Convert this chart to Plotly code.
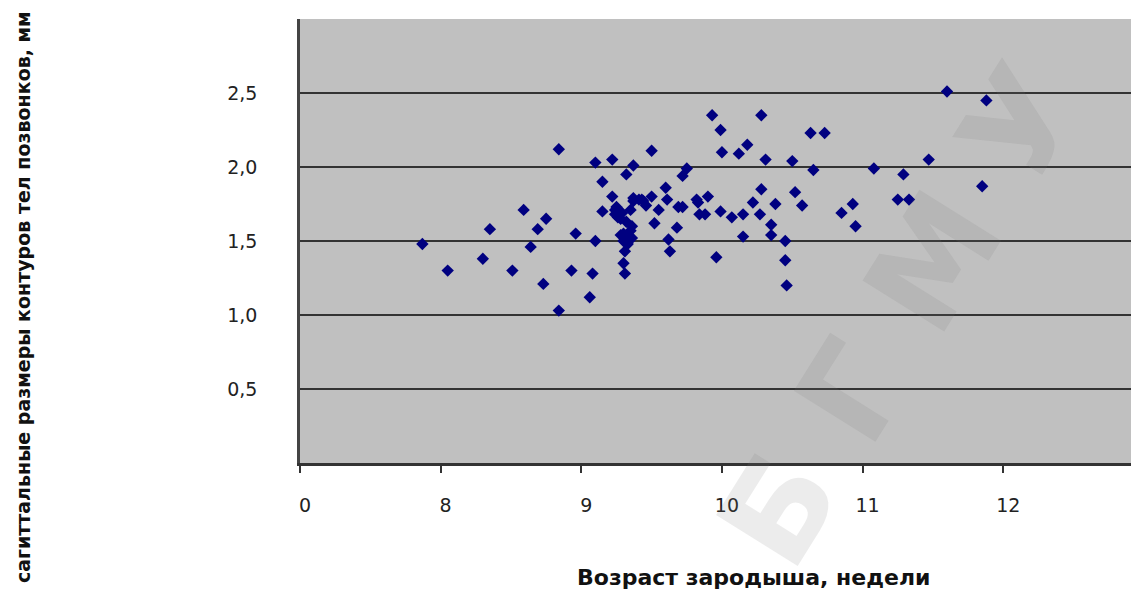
import plotly.graph_objects as go

# Fetal age (weeks) and sagittal size of vertebral body contours (mm)
age_weeks = [
    7.87, 8.05, 8.30, 8.35, 8.51, 8.59, 8.64, 8.69, 8.73, 8.75,
    8.84, 8.84, 8.93, 8.96, 9.06, 9.08, 9.10, 9.10, 9.15, 9.15,
    9.22, 9.22, 9.24, 9.29, 9.35, 9.26, 9.32, 9.30, 9.33, 9.30,
    9.33, 9.31, 9.30, 9.31, 9.32, 9.37, 9.37, 9.43, 9.50, 9.50,
    9.52, 9.55, 9.60, 9.61, 9.62, 9.63, 9.68, 9.69, 9.72, 9.72,
    9.75, 9.82, 9.83, 9.84, 9.88, 9.90, 9.93, 9.96, 9.99, 9.99,
    10.00, 10.07, 10.12, 10.18, 10.15, 10.15, 10.22, 10.27, 10.28, 10.28,
    10.31, 10.35, 10.35, 10.38, 10.45, 10.45, 10.46, 10.50, 10.52, 10.57,
    10.63, 10.73, 10.65, 10.85, 10.93, 10.95, 11.08, 11.25, 11.33, 11.29,
    11.47, 11.60, 11.88, 11.85, 9.25, 9.28, 9.36, 9.37, 9.41, 9.44,
    9.46, 9.24, 9.35, 9.36, 9.28,
]
size_mm = [
    1.48, 1.30, 1.38, 1.58, 1.30, 1.71, 1.46, 1.58, 1.21, 1.65,
    2.12, 1.03, 1.30, 1.55, 1.12, 1.28, 1.50, 2.03, 1.90, 1.70,
    2.05, 1.80, 1.71, 1.69, 1.71, 1.66, 1.63, 1.55, 1.53, 1.50,
    1.48, 1.43, 1.35, 1.28, 1.95, 2.01, 1.79, 1.78, 1.80, 2.11,
    1.62, 1.71, 1.86, 1.78, 1.51, 1.43, 1.59, 1.73, 1.73, 1.94,
    1.99, 1.78, 1.76, 1.68, 1.68, 1.80, 2.35, 1.39, 2.25, 1.70,
    2.10, 1.66, 2.09, 2.15, 1.53, 1.68, 1.76, 1.68, 2.35, 1.85,
    2.05, 1.61, 1.54, 1.75, 1.50, 1.37, 1.20, 2.04, 1.83, 1.74,
    2.23, 2.23, 1.98, 1.69, 1.75, 1.60, 1.99, 1.78, 1.78, 1.95,
    2.05, 2.51, 2.45, 1.87, 1.73, 1.65, 1.60, 1.77, 1.78, 1.77,
    1.74, 1.68, 1.57, 1.52, 1.54,
]

x_tick_vals = [7, 8, 9, 10, 11, 12]
x_tick_text = ["0", "8", "9", "10", "11", "12"]
y_tick_vals = [0.5, 1.0, 1.5, 2.0, 2.5]
y_tick_text = ["0,5", "1,0", "1,5", "2,0", "2,5"]

x_title = "Возраст зародыша, недели"
y_title = "сагиттальные размеры контуров тел позвонков, мм"
watermark = "Б Г М У"

fig = go.Figure()
fig.add_trace(go.Scatter(
    x=age_weeks, y=size_mm, mode="markers",
    marker=dict(symbol="diamond", size=9.5, color="#000080", line=dict(width=0)),
    showlegend=False,
))

tick_font = dict(family="DejaVu Sans", size=19, color="#222222")

fig.update_layout(
    width=1131, height=597,
    margin=dict(l=292, r=0, t=11, b=142),
    paper_bgcolor="white",
    plot_bgcolor="#C0C0C0",
    xaxis=dict(
        range=[7, 12.965], tickvals=x_tick_vals, ticktext=x_tick_text,
        showgrid=False, zeroline=False,
        showline=True, linecolor="#333333", linewidth=2.5,
        ticks="outside", ticklen=7, tickwidth=2, tickcolor="#333333",
        tickfont=tick_font, ticklabelstandoff=16, ticklabelshift=5,
    ),
    yaxis=dict(
        range=[0, 3.0], tickvals=y_tick_vals, ticktext=y_tick_text,
        showgrid=True, gridcolor="#333333", gridwidth=2.2,
        zeroline=False,
        showline=True, linecolor="#444444", linewidth=2.5,
        ticks="", tickfont=tick_font, ticklabelstandoff=36,
    ),
    annotations=[
        dict(text=x_title, xref="paper", yref="paper", x=0.540, y=-0.257,
             xanchor="center", yanchor="middle", showarrow=False,
             font=dict(family="DejaVu Sans", size=22, color="#111111", weight="bold")),
        dict(text=y_title, xref="paper", yref="paper", x=-0.330, y=0.374,
             xanchor="center", yanchor="middle", showarrow=False, textangle=-90,
             font=dict(family="DejaVu Sans", size=19, color="#111111", weight="bold")),
        dict(text=watermark, xref="paper", yref="paper", x=0.715, y=0.33,
             xanchor="center", yanchor="middle", showarrow=False, textangle=-58,
             font=dict(family="DejaVu Sans", size=132, color="rgba(120,120,120,0.14)", weight="bold")),
    ],
)

fig.write_html("out.html")
